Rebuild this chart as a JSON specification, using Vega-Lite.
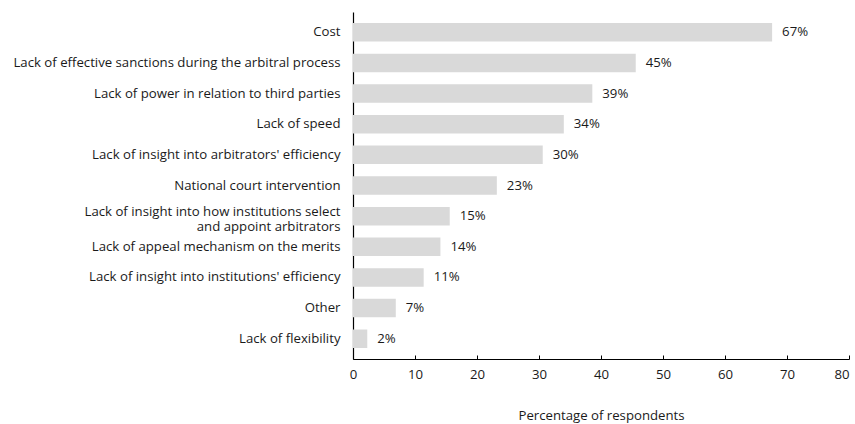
{
  "$schema": "https://vega.github.io/schema/vega-lite/v6.json",
  "width": 496,
  "height": 347,
  "autosize": "none",
  "padding": {"left": 353, "top": 12, "right": 6, "bottom": 65},
  "background": "white",
  "config": {
    "view": {"stroke": null},
    "font": "Open Sans",
    "axis": {"labelFont": "Open Sans", "titleFont": "Open Sans", "labelColor": "#1a1a1a", "titleColor": "#1a1a1a"}
  },
  "data": {
    "values": [
      {"reason": "Cost", "value": 67.6, "label": "67%"},
      {"reason": "Lack of effective sanctions during the arbitral process", "value": 45.6, "label": "45%"},
      {"reason": "Lack of power in relation to third parties", "value": 38.6, "label": "39%"},
      {"reason": "Lack of speed", "value": 34.0, "label": "34%"},
      {"reason": "Lack of insight into arbitrators' efficiency", "value": 30.6, "label": "30%"},
      {"reason": "National court intervention", "value": 23.2, "label": "23%"},
      {"reason": "Lack of insight into how institutions select|and appoint arbitrators", "value": 15.6, "label": "15%"},
      {"reason": "Lack of appeal mechanism on the merits", "value": 14.1, "label": "14%"},
      {"reason": "Lack of insight into institutions' efficiency", "value": 11.4, "label": "11%"},
      {"reason": "Other", "value": 6.9, "label": "7%"},
      {"reason": "Lack of flexibility", "value": 2.3, "label": "2%"}
    ]
  },
  "encoding": {
    "y": {
      "field": "reason",
      "type": "nominal",
      "sort": null,
      "scale": {"paddingInner": 0.396, "paddingOuter": 0.358},
      "axis": {
        "title": null,
        "ticks": false,
        "labelPadding": 13,
        "labelFontSize": 13.2,
        "labelLimit": 400,
        "labelLineHeight": 14.5,
        "labelExpr": "split(datum.label, '|')",
        "labelOffset": {"condition": {"test": "indexof(datum.value, '|') >= 0", "value": -4}, "value": 0},
        "domainColor": "#000000",
        "domainWidth": 1.2
      }
    },
    "x": {
      "field": "value",
      "type": "quantitative",
      "scale": {"domain": [0, 80]},
      "axis": {
        "title": "Percentage of respondents",
        "titleFontSize": 13.2,
        "titleFontWeight": "normal",
        "titlePadding": 29,
        "values": [0, 10, 20, 30, 40, 50, 60, 70, 80],
        "grid": false,
        "tickSize": -4,
        "tickColor": "#000000",
        "labelPadding": 13,
        "labelFontSize": 13.2,
        "labelFlush": false,
        "labelAlign": {"condition": {"test": "datum.value == 80", "value": "right"}, "value": "center"},
        "domainColor": "#000000",
        "domainWidth": 1.2
      }
    }
  },
  "layer": [
    {"mark": {"type": "bar", "color": "#d9d9d9"}},
    {
      "mark": {"type": "text", "align": "left", "baseline": "middle", "dx": 10, "fontSize": 13.2, "color": "#1a1a1a"},
      "encoding": {"text": {"field": "label"}}
    }
  ]
}
